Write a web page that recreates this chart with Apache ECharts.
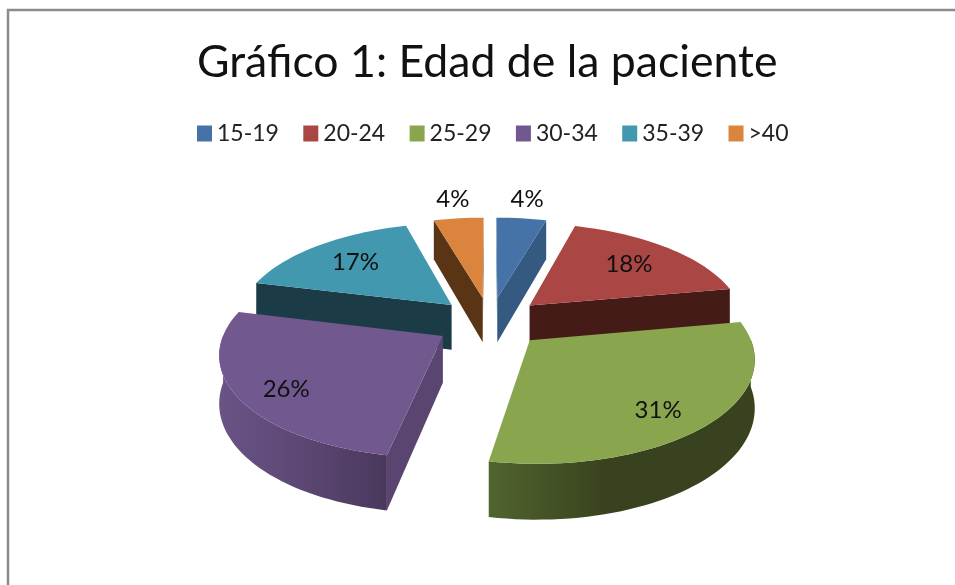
<!DOCTYPE html>
<html><head><meta charset="utf-8">
<style>html,body{margin:0;padding:0;background:#fff}#c{width:955px;height:585px}</style>
<script src="https://cdn.jsdelivr.net/npm/echarts@6/dist/echarts.min.js"></script>
</head><body><div id="c"></div>
<script>
const categories = ['15-19','20-24','25-29','30-34','35-39','>40'];
const values = [4.4,17.7,30.8,25.9,16.7,4.4];
const topColors = ['#4572a7','#aa4643','#89a54e','#71588f','#4198af','#db843d'];
const cutColors = ['#345a82','#451b18','#3a451f','#5a4570','#1b3c47','#5a3515'];
const rimStops = [
  [[0,'#345a82'],[1,'#2a4a6c']],
  [[0,'#451b18'],[1,'#451b18']],
  [[0,'#51642f'],[0.45,'#38421e'],[1,'#38421e']],
  [[0,'#6a5386'],[0.5,'#5c4773'],[1,'#49385c']],
  [[0,'#1b3c47'],[1,'#1b3c47']],
  [[0,'#5a3515'],[1,'#5a3515']]
];
const stacking = [4,5,6,3,1,2];
const labelRho = [1.24,0.68,0.77,0.78,0.68,1.24];
const labelTurn = [0,0,5,-4,0,0];

const CX=490, CY=322, A=222, B=102, P=0.154, E=0.247, R=0.97, D=46;
const total = values.reduce(function(a,b){return a+b;},0);
function project(u,v,drop){
  const w = 1/(1-P*v);
  return [CX+A*u*w, CY+B*v*w+(drop?D*w:0)];
}
function sliceGeom(i){
  let s=0; for(let k=0;k<i;k++) s+=values[k];
  const a0=s/total*2*Math.PI, a1=(s+values[i])/total*2*Math.PI, m=(a0+a1)/2;
  const ou=E*Math.sin(m), ov=-E*Math.cos(m);
  return {a0,a1,m,at:function(t,rho,drop){return project(ou+rho*Math.sin(t),ov-rho*Math.cos(t),drop);}};
}
function poly(points,fill){
  return {type:'polygon',silent:true,shape:{points:points},style:{fill:fill,stroke:null}};
}
function renderSlice(params){
  const i=params.seriesIndex, g=sliceGeom(i), kids=[];
  const n=Math.max(4,Math.ceil((g.a1-g.a0)/(Math.PI/90)));
  const rim=[]; for(let k=0;k<=n;k++) rim.push(g.a0+(g.a1-g.a0)*k/n);
  const apex=g.at(0,0,false), apexB=g.at(0,0,true);
  const midRim=g.at(g.m,R,false);
  [g.a0,g.a1].forEach(function(t){
    const p=g.at(t,R,false), pB=g.at(t,R,true);
    const cross=function(q){return (p[0]-apex[0])*(q[1]-apex[1])-(p[1]-apex[1])*(q[0]-apex[0]);};
    const below=[(p[0]+apex[0])/2,(p[1]+apex[1])/2+5];
    if(cross(midRim)*cross(below)<0) kids.push(poly([apex,p,pB,apexB],cutColors[i]));
  });
  const vis=rim.filter(function(t){return Math.cos(t)<0.02;});
  if(vis.length>1){
    const up=vis.map(function(t){return g.at(t,R,false);});
    const dn=vis.map(function(t){return g.at(t,R,true);}).reverse();
    kids.push(poly(up.concat(dn),{type:'linear',x:0,y:0,x2:1,y2:0,
      colorStops:rimStops[i].map(function(s){return {offset:s[0],color:s[1]};})}));
  }
  kids.push(poly([apex].concat(rim.map(function(t){return g.at(t,R,false);})),topColors[i]));
  const lp=g.at(g.m+labelTurn[i]*Math.PI/180,labelRho[i],false);
  kids.push({type:'text',silent:true,z2:50,style:{x:lp[0],y:lp[1],text:Math.round(values[i])+'%',fill:'#111',
    font:'24px Lato',align:'center',verticalAlign:'middle'}});
  return {type:'group',children:kids};
}
const series = categories.map(function(name,i){
  return {type:'custom',name:name,coordinateSystem:'none',z:stacking[i],animation:false,silent:true,
    itemStyle:{color:topColors[i]},data:[[values[i]]],renderItem:renderSlice};
});
const chart = echarts.init(document.getElementById('c'),null,{renderer:'canvas'});
chart.setOption({
  backgroundColor:'#fff',animation:false,
  title:{text:'Gráfico 1: Edad de la paciente',left:192,top:35,
    textStyle:{fontFamily:'Lato',fontSize:44.6,fontWeight:'normal',color:'#111'}},
  legend:{data:categories,left:192,top:117,icon:'rect',itemWidth:15,itemHeight:16,itemGap:24.4,
    textStyle:{fontFamily:'Lato',fontSize:23,color:'#222',padding:[0,0,0,0]},selectedMode:false},
  graphic:[{type:'polyline',silent:true,shape:{points:[[8,585],[8,10],[955,10]]},style:{stroke:'#8c8c8c',lineWidth:2.5,fill:null}}],
  series:series
});
</script></body></html>
